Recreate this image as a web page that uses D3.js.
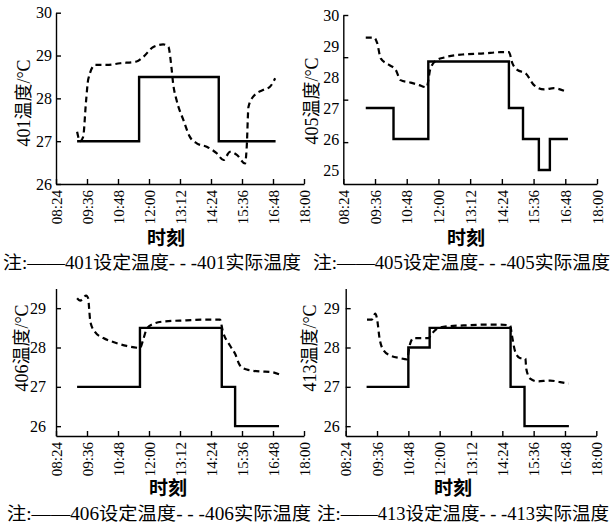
<!DOCTYPE html>
<html>
<head>
<meta charset="utf-8">
<script src="https://cdn.jsdelivr.net/npm/d3@7"></script>
<style>
  body { margin: 0; background: #fff; }
  svg { display: block; }
  text { font-family: "Liberation Serif", "Noto Sans CJK SC", serif; fill: #000; }
</style>
</head>
<body>
<div id="chart"></div>
<script>
// --- data
const timeTicks = ['08:24', '09:36', '10:48', '12:00', '13:12', '14:24', '15:36', '16:48', '18:00'];

// set temperature: [time, value], step after
const set401 = [['09:13', 27], ['11:37', 28.5], ['14:42', 27], ['16:54', 27]];
const set405 = [['09:15', 27], ['10:18', 26], ['11:37', 28.5], ['14:40', 27], ['15:12', 26], ['15:48', 25], ['16:13', 26], ['16:54', 26]];
const set406 = [['09:13', 27], ['11:39', 28.5], ['14:49', 27], ['15:20', 26], ['17:02', 26]];
const set413 = [['09:12', 27], ['10:48', 28], ['11:37', 28.5], ['14:43', 27], ['15:15', 26], ['16:57', 26]];

// measured temperature
const act401 = [['09:13', 27.22], ['09:20', 27.0], ['09:27', 27.1], ['09:34', 27.96], ['09:39', 28.45], ['09:55', 28.78],
  ['10:22', 28.78], ['10:53', 28.82], ['11:31', 28.86], ['11:47', 28.97], ['12:10', 29.2], ['12:33', 29.26],
  ['12:45', 29.2], ['12:52', 28.74], ['12:56', 28.35], ['13:04', 27.96], ['13:20', 27.49], ['13:35', 27.1],
  ['13:51', 26.95], ['14:14', 26.87], ['14:37', 26.72], ['14:53', 26.56], ['15:08', 26.75], ['15:24', 26.68],
  ['15:43', 26.48], ['15:47', 26.87], ['15:51', 27.8], ['16:02', 28.04], ['16:26', 28.2], ['16:41', 28.27], ['16:53', 28.47]];
const act405 = [['09:15', 29.27], ['09:34', 29.27], ['09:41', 29.09], ['09:49', 28.6], ['10:08', 28.39], ['10:23', 28.23],
  ['10:34', 27.9], ['10:57', 27.82], ['11:16', 27.74], ['11:33', 27.67], ['11:42', 28.28], ['11:57', 28.55],
  ['12:13', 28.63], ['12:58', 28.73], ['13:43', 28.76], ['14:21', 28.8], ['14:40', 28.8], ['14:48', 28.44],
  ['14:59', 28.23], ['15:18', 28.12], ['15:37', 27.74], ['16:00', 27.6], ['16:22', 27.64], ['16:45', 27.56]];
const act406 = [['09:13', 29.25], ['09:20', 29.19], ['09:34', 29.32], ['09:39', 29.24], ['09:41', 28.98], ['09:44', 28.64],
  ['09:55', 28.39], ['10:14', 28.24], ['10:37', 28.14], ['11:08', 28.04], ['11:39', 27.99], ['11:47', 28.22],
  ['11:55', 28.48], ['12:10', 28.6], ['12:33', 28.66], ['13:27', 28.69], ['14:14', 28.71], ['14:45', 28.71],
  ['14:51', 28.43], ['15:08', 28.05], ['15:20', 27.84], ['15:31', 27.55], ['15:47', 27.44], ['16:18', 27.39],
  ['16:41', 27.38], ['17:02', 27.32]];
const act413 = [['09:13', 28.71], ['09:24', 28.71], ['09:32', 28.86], ['09:36', 28.73], ['09:42', 28.22], ['09:51', 27.93],
  ['10:06', 27.8], ['10:29', 27.73], ['10:45', 27.7], ['10:51', 28.05], ['11:00', 28.24], ['11:34', 28.24],
  ['11:42', 28.35], ['11:54', 28.48], ['12:17', 28.54], ['12:55', 28.56], ['13:41', 28.58], ['14:19', 28.58],
  ['14:42', 28.56], ['14:46', 28.31], ['14:54', 27.88], ['15:05', 27.73], ['15:17', 27.72], ['15:19', 27.46],
  ['15:28', 27.21], ['15:44', 27.14], ['16:14', 27.16], ['16:37', 27.12], ['16:56', 27.08]];

// y tick labels
const yTicks401 = [26, 27, 28, 29, 30];
const yTicks405 = [25, 26, 27, 28, 29, 30];
const yMarks405 = [30, 28.64, 27.27, 25.9]; // tick marks in this panel sit off the labels
const yTicks406 = [26, 27, 28, 29];
const yTicks413 = [26, 27, 28, 29];

const rooms = ['401', '405', '406', '413'];

// --- helpers
const toMin = (s) => { const [h, m] = s.split(':').map(Number); return h * 60 + m; };

const width = 614;
const height = 527;

const svg = d3.select('#chart')
  .append('svg')
  .attr('width', width)
  .attr('height', height);

// --- panel layout
const panels = [
  { room: rooms[0], set: set401, act: act401, ticks: yTicks401, marks: null,
    x0: 56, x1: 304, yTop: 12.7, yBot: 184, domain: [26, 30], labPad: 4,
    titleX: 24, titleY: 103, xLabX: 166, xLabY: 245, legX: 3, legW: 298, legY: 269 },
  { room: rooms[1], set: set405, act: act405, ticks: yTicks405, marks: yMarks405,
    x0: 343.3, x1: 597, yTop: 15, yBot: 184, domain: [24.55, 30], labPad: 4,
    titleX: 312, titleY: 101, xLabX: 466, xLabY: 245, legX: 313, legW: 297, legY: 269 },
  { room: rooms[2], set: set406, act: act406, ticks: yTicks406, marks: null,
    x0: 56, x1: 304, yTop: 288.5, yBot: 436, domain: [25.75, 29.5], labPad: 10,
    titleX: 22, titleY: 348, xLabX: 168, xLabY: 495, legX: 7, legW: 304, legY: 520 },
  { room: rooms[3], set: set413, act: act413, ticks: yTicks413, marks: null,
    x0: 345.7, x1: 596.3, yTop: 288.5, yBot: 436, domain: [25.75, 29.5], labPad: 6,
    titleX: 310, titleY: 348, xLabX: 453, xLabY: 495, legX: 317, legW: 292, legY: 520 }
];

panels.forEach(drawPanel);

function drawPanel(p) {
  const x = d3.scaleLinear()
    .domain([toMin(timeTicks[0]), toMin(timeTicks[timeTicks.length - 1])])
    .range([p.x0, p.x1]);
  const y = d3.scaleLinear()
    .domain(p.domain)
    .range([p.yBot, p.yTop]);

  const g = svg.append('g');

  // --- x axis
  const xAxis = g.append('g')
    .attr('transform', `translate(0,${p.yBot})`)
    .call(d3.axisBottom(x)
      .tickValues(timeTicks.map(toMin))
      .tickFormat((d, i) => timeTicks[i])
      .tickSize(-5)
      .tickSizeOuter(0));
  xAxis.selectAll('text')
    .attr('x', -6)
    .attr('y', 0)
    .attr('dy', '0.35em')
    .attr('transform', 'rotate(-90)')
    .style('text-anchor', 'end')
    .style('font-size', '15px');

  // --- y axis
  const yAxis = g.append('g')
    .attr('transform', `translate(${p.x0},0)`)
    .call(d3.axisLeft(y)
      .tickValues(p.ticks)
      .tickFormat(d3.format('d'))
      .tickSize(p.marks ? 0 : -5)
      .tickPadding(p.labPad)
      .tickSizeOuter(0));
  yAxis.selectAll('text')
    .style('font-size', '16px');

  if (p.marks) {
    g.append('g')
      .attr('transform', `translate(${p.x0},0)`)
      .call(d3.axisLeft(y).tickValues(p.marks).tickFormat('').tickSize(-5).tickSizeOuter(0))
      .select('.domain').remove();
  }

  g.selectAll('.domain, .tick line')
    .attr('stroke', '#000')
    .attr('stroke-width', 1.4);
  g.selectAll('.tick text').attr('fill', '#000');

  // --- set temperature (solid step line)
  const stepLine = d3.line()
    .x(d => x(toMin(d[0])))
    .y(d => y(d[1]))
    .curve(d3.curveStepAfter);

  g.append('path')
    .attr('d', stepLine(p.set))
    .attr('fill', 'none')
    .attr('stroke', '#000')
    .attr('stroke-width', 2.4);

  // --- actual temperature (dashed)
  const actLine = d3.line()
    .x(d => x(toMin(d[0])))
    .y(d => y(d[1]))
    .curve(d3.curveMonotoneX);

  g.append('path')
    .attr('d', actLine(p.act))
    .attr('fill', 'none')
    .attr('stroke', '#000')
    .attr('stroke-width', 2.2)
    .attr('stroke-dasharray', '6,4');

  // --- labels
  g.append('text')
    .attr('transform', `translate(${p.titleX},${p.titleY}) rotate(-90)`)
    .attr('text-anchor', 'middle')
    .attr('dy', '0.35em')
    .style('font-size', '18px')
    .text(`${p.room}温度/°C`);

  g.append('text')
    .attr('x', p.xLabX)
    .attr('y', p.xLabY)
    .attr('text-anchor', 'middle')
    .style('font-size', '19px')
    .style('font-weight', 'bold')
    .text('时刻');

  g.append('text')
    .attr('x', p.legX)
    .attr('y', p.legY)
    .attr('textLength', p.legW)
    .attr('lengthAdjust', 'spacingAndGlyphs')
    .style('font-size', '18px')
    .text(`注:——${p.room}设定温度- - -${p.room}实际温度`);
}
</script>
</body>
</html>
